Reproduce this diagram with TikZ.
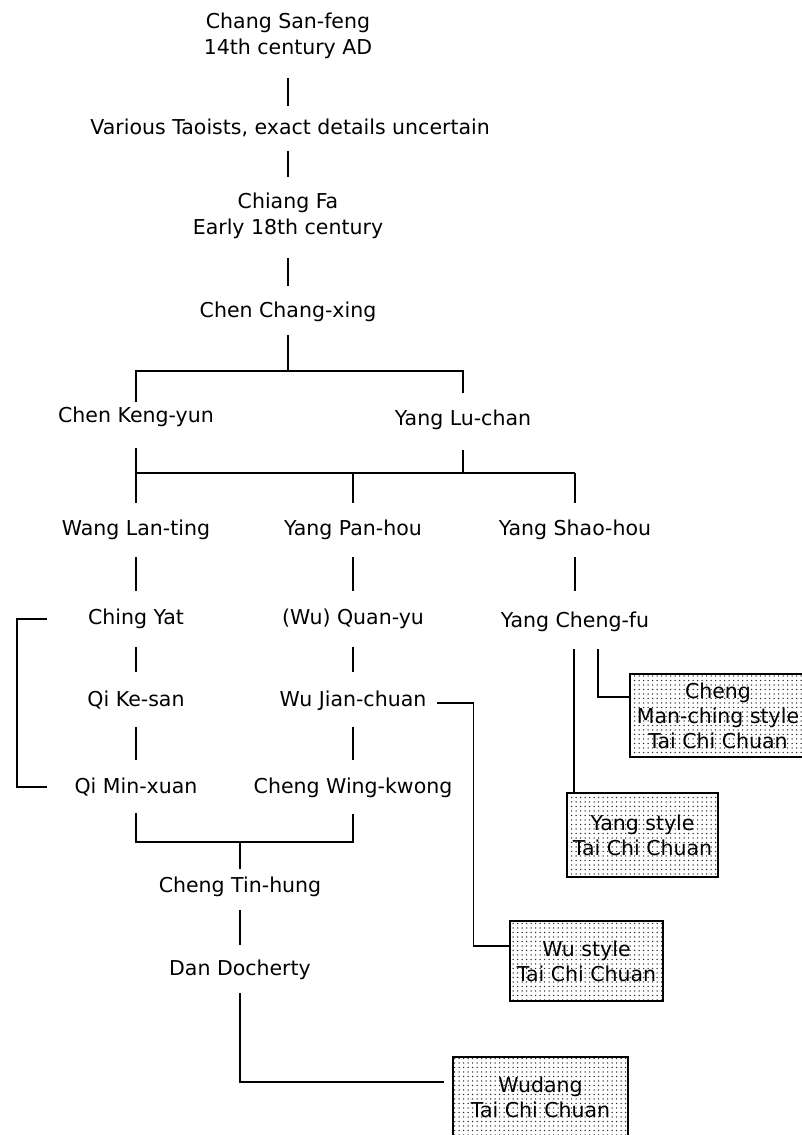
\documentclass[tikz,border=0pt]{standalone}
\usepackage{fontspec}
\setmainfont{DejaVu Sans}
\usetikzlibrary{patterns.meta}
\begin{document}
\begin{tikzpicture}[x=1pt,y=-1pt,
  lbl/.style={inner sep=0pt, font=\fontsize{20.5}{26}\selectfont, align=center},
  conn/.style={line width=1.1pt},
  stylebox/.style={draw, line width=1.6pt, pattern={Dots[distance=4.5pt,radius=0.75pt]},
    pattern color=black!85, inner sep=0pt, font=\fontsize{20.5}{25}\selectfont, align=center}]
\useasboundingbox (0,0) rectangle (802,1135);
% text nodes
\node[lbl] (csf) at (288,36) {Chang San-feng\\14th century AD};
\node[lbl,anchor=east] (vt) at (490,128) {Various Taoists, exact details uncertain};
\node[lbl] (cf) at (288,216) {Chiang Fa\\Early 18th century};
\node[lbl] (ccx) at (288,312) {Chen Chang-xing};
\node[lbl] (cky) at (136,417) {Chen Keng-yun};
\node[lbl] (ylc) at (463,420) {Yang Lu-chan};
\node[lbl] (wlt) at (136,530) {Wang Lan-ting};
\node[lbl] (yph) at (353,530) {Yang Pan-hou};
\node[lbl] (ysh) at (575,530) {Yang Shao-hou};
\node[lbl] (cy) at (136,619) {Ching Yat};
\node[lbl] (qy) at (353,619) {(Wu) Quan-yu};
\node[lbl] (ycf) at (575,622) {Yang Cheng-fu};
\node[lbl] (qks) at (136,700) {Qi Ke-san};
\node[lbl] (wjc) at (353,701) {Wu Jian-chuan};
\node[lbl] (qmx) at (136,787) {Qi Min-xuan};
\node[lbl] (cwk) at (353,788) {Cheng Wing-kwong};
\node[lbl] (cth) at (240,887) {Cheng Tin-hung};
\node[lbl] (dd) at (240,970) {Dan Docherty};
% style boxes
\node[stylebox, minimum width=176pt, minimum height=83pt] (chengbox) at (718,715.5) {Cheng\\Man-ching style\\Tai Chi Chuan};
\node[stylebox, minimum width=151pt, minimum height=84pt] (yangbox) at (642.5,835) {Yang style\\Tai Chi Chuan};
\node[stylebox, minimum width=153pt, minimum height=80pt] (wubox) at (586.5,961) {Wu style\\Tai Chi Chuan};
\node[stylebox, minimum width=175pt, minimum height=80pt] (wudbox) at (540.5,1097) {Wudang\\Tai Chi Chuan};
% connectors
\draw[conn] ([yshift=-42pt]csf.center) -- ([yshift=22pt]vt.center -| csf.center);
\draw[conn] ([yshift=65pt]cf.center) -- ([yshift=39pt]cf.center);
\draw[conn] ([yshift=-42pt]cf.center) -- ([yshift=26pt]ccx.center);
\draw[conn] ([yshift=-23pt]ccx.center) -- ([yshift=-59pt]ccx.center) coordinate (j1);
\draw[conn] ([yshift=15pt]cky.center) |- (j1) -| ([yshift=27pt]ylc.center);
\draw[conn] ([yshift=-31pt]cky.center) -- ([yshift=27pt]wlt.center);
\draw[conn] ([yshift=-30pt]ylc.center) -- ([yshift=-53pt]ylc.center) coordinate (j2);
\draw[conn] (wlt.center |- j2) -- (ysh.center |- j2);
\draw[conn] (yph.center |- j2) -- ([yshift=27pt]yph.center);
\draw[conn] (ysh.center |- j2) -- ([yshift=27pt]ysh.center);
\draw[conn] ([yshift=-27pt]wlt.center) -- ([yshift=28pt]cy.center);
\draw[conn] ([yshift=-27pt]yph.center) -- ([yshift=28pt]qy.center);
\draw[conn] ([yshift=-27pt]ysh.center) -- ([yshift=31pt]ycf.center);
\draw[conn] ([yshift=-28pt]cy.center) -- ([yshift=28pt]qks.center);
\draw[conn] ([yshift=-28pt]qy.center) -- ([yshift=29pt]wjc.center);
\draw[conn] ([yshift=-27pt]qks.center) -- ([yshift=27pt]qmx.center);
\draw[conn] ([yshift=-26pt]wjc.center) -- ([yshift=28pt]cwk.center);
% left bracket
\draw[conn] ([xshift=-89pt]cy.center) -- ++(-30,0) |- ([xshift=-89pt]qmx.center);
% lower bracket
\draw[conn] ([yshift=-26pt]qmx.center) -- ([yshift=-55pt]qmx.center) -- ([yshift=-54pt]cwk.center) -- ([yshift=-26pt]cwk.center);
\draw[conn] ([yshift=45pt]cth.center) -- ([yshift=18pt]cth.center);
\draw[conn] ([yshift=-23pt]cth.center) -- ([yshift=25pt]dd.center);
\draw[conn] ([yshift=-23pt]dd.center) |- ([xshift=-8pt,yshift=15pt]wudbox.west);
% Wu line
\draw[conn] ([xshift=84pt,yshift=-2pt]wjc.center) -| ([xshift=-36pt,yshift=15pt]wubox.west) -- ([yshift=15pt]wubox.west);
% Yang Cheng-fu lines
\draw[conn] ([xshift=-1pt,yshift=-27pt]ycf.center) -- ++(0,144);
\draw[conn] ([xshift=23pt,yshift=-27pt]ycf.center) |- ([yshift=18.5pt]chengbox.west);
\end{tikzpicture}
\end{document}
